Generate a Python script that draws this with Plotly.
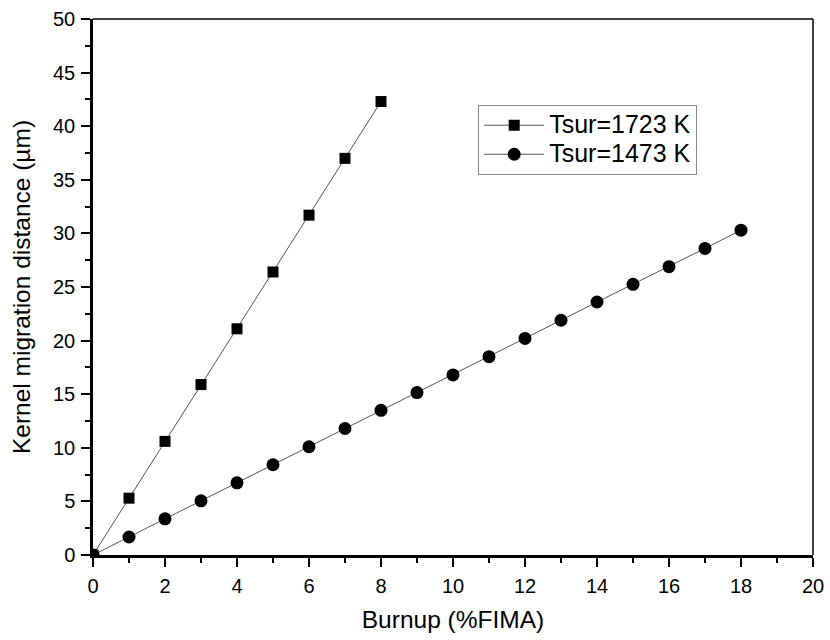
import plotly.graph_objects as go

# Burnup (%FIMA) and kernel migration distance (µm) for two surface temperatures
burnup_1723 = [0, 1, 2, 3, 4, 5, 6, 7, 8]
dist_1723 = [0, 5.3, 10.6, 15.9, 21.1, 26.4, 31.7, 37.0, 42.3]

burnup_1473 = list(range(0, 19))
dist_1473 = [0, 1.68, 3.37, 5.05, 6.73, 8.42, 10.1, 11.8, 13.5, 15.15,
             16.8, 18.5, 20.2, 21.9, 23.6, 25.25, 26.9, 28.6, 30.3]

labels = ["Tsur=1723 K", "Tsur=1473 K"]

FONT = "Liberation Sans, Arial, sans-serif"


def legend_name(text):
    # larger glyphs while keeping compact legend rows
    return '<span style="font-size:25px">' + text + "</span>"


fig = go.Figure()
fig.add_trace(go.Scatter(
    x=burnup_1723, y=dist_1723, name=legend_name(labels[0]), mode="lines+markers",
    line=dict(color="#555555", width=1),
    marker=dict(symbol="square", size=11, color="black"),
))
fig.add_trace(go.Scatter(
    x=burnup_1473, y=dist_1473, name=legend_name(labels[1]), mode="lines+markers",
    line=dict(color="#555555", width=1),
    marker=dict(symbol="circle", size=13, color="black"),
))

axis_common = dict(
    showgrid=False, zeroline=False, showline=True, linecolor="black",
    linewidth=2.5, ticks="outside", ticklen=9, tickwidth=2, tickcolor="black",
    tickfont=dict(family=FONT, size=20, color="black"),
    ticklabelstandoff=2, automargin=False,
)

fig.update_xaxes(
    range=[0, 20], dtick=2, tick0=0,
    minor=dict(ticks="outside", ticklen=5, tickwidth=2, tickcolor="black", dtick=1),
    title=dict(text="Burnup (%FIMA)", font=dict(family=FONT, size=24.5, color="black"), standoff=16),
    **axis_common,
)
fig.update_yaxes(
    range=[0, 50], dtick=5, tick0=0,
    minor=dict(ticks="outside", ticklen=5, tickwidth=2, tickcolor="black", dtick=2.5),
    title=dict(text="Kernel migration distance (µm)", font=dict(family=FONT, size=24.5, color="black"), standoff=16),
    **axis_common,
)

# Top and right frame lines
fig.add_shape(type="line", xref="paper", yref="paper", x0=0, x1=1, y0=1, y1=1,
              line=dict(color="black", width=1.5))
fig.add_shape(type="line", xref="paper", yref="paper", x0=1, x1=1, y0=0, y1=1,
              line=dict(color="black", width=1.5))

fig.update_layout(
    width=830, height=640,
    margin=dict(l=93, r=17, t=19, b=85),
    plot_bgcolor="white", paper_bgcolor="white",
    font=dict(family=FONT, color="black"),
    legend=dict(
        x=0.535, y=0.84, xanchor="left", yanchor="top",
        bordercolor="#888888", borderwidth=1, bgcolor="white",
        font=dict(family=FONT, size=20, color="black"),
        itemwidth=60, tracegroupgap=0,
    ),
)

fig.write_html("out.html")
